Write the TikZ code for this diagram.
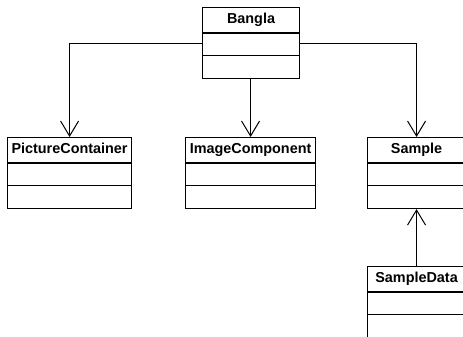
\documentclass[tikz,border=0pt]{standalone}
\usepackage{fontspec}
\setmainfont{Liberation Sans}
\usetikzlibrary{arrows.meta}
\tikzset{
  classbox/.style={draw, line width=1.1pt, inner sep=0pt, minimum height=71pt, anchor=north west},
  classname/.style={font=\bfseries\fontsize{14.4}{16}\selectfont, anchor=base, inner sep=0pt},
  generalize/.style={line width=1pt, -{Straight Barb[length=15pt,width=18pt]}},
}
\begin{document}
\begin{tikzpicture}[x=1pt, y=-1pt]
  \clip (0,0) rectangle (463,337);
  % class boxes
  \node[classbox, minimum width=97pt] (bangla) at (202,7) {};
  \node[classbox, minimum width=124pt] (pictcont) at (7,137) {};
  \node[classbox, minimum width=130pt] (imgcomp) at (185,137) {};
  \node[classbox, minimum width=98pt] (sample) at (367,137) {};
  \node[classbox, minimum width=98pt] (sampdata) at (367,266) {};
  % names and compartments
  \foreach \c/\t in {bangla/Bangla, pictcont/PictureContainer, imgcomp/ImageComponent,
                     sample/Sample, sampdata/SampleData} {
    \node[classname] (\c-name) at ([yshift=-16.5pt]\c.north) {\t};
    \draw[line width=1.1pt] ([yshift=-26pt]\c.north west) -- ([yshift=-26pt]\c.north east);
    \draw[line width=1.1pt] ([yshift=-48.5pt]\c.north west) -- ([yshift=-48.5pt]\c.north east);
  }
  % generalizations
  \draw[generalize] (bangla.west) -| (pictcont.north);
  \draw[generalize] (imgcomp.north |- bangla.south) -- (imgcomp.north);
  \draw[generalize] (bangla.east) -| (sample.north);
  \draw[generalize] (sampdata.north) -- (sample.south);
\end{tikzpicture}
\end{document}
